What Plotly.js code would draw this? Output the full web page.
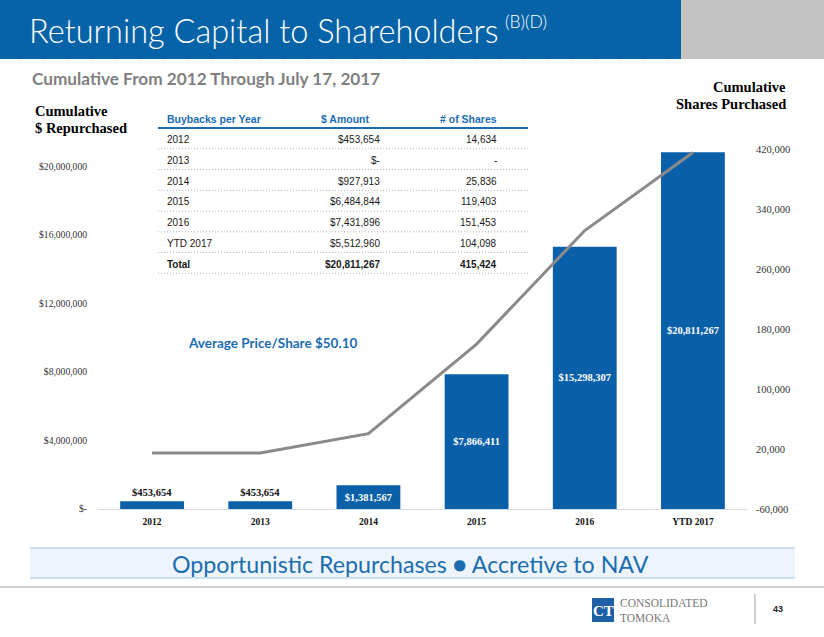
<!DOCTYPE html>
<html><head><meta charset="utf-8">
<script src="https://cdn.plot.ly/plotly-3.0.1.min.js"></script>
<style>html,body{margin:0;padding:0;background:#fff;overflow:hidden}#chart{width:824px;height:637px}</style>
</head><body><div id="chart"></div>
<script>
// ---- data ----
const categories = ['2012','2013','2014','2015','2016','YTD 2017'];
const cumulativeDollars = [453654, 453654, 1381567, 7866411, 15298307, 20811267];
const cumulativeShares = [14634, 14634, 40470, 159873, 311326, 415424];
const leftTickVals = [0, 4000000, 8000000, 12000000, 16000000, 20000000];
const leftTickText = ['$-', '$4,000,000', '$8,000,000', '$12,000,000', '$16,000,000', '$20,000,000'];
const rightTickVals = [-60000, 20000, 100000, 180000, 260000, 340000, 420000];
const rightTickText = ['-60,000', '20,000', '100,000', '180,000', '260,000', '340,000', '420,000'];
const tableHeaders = ['Buybacks per Year', '$ Amount', '# of Shares'];
const tableYears = ['2012', '2013', '2014', '2015', '2016', 'YTD 2017', 'Total'];
const tableAmounts = ['$453,654', '$-', '$927,913', '$6,484,844', '$7,431,896', '$5,512,960', '$20,811,267'];
const tableShares = ['14,634', '-', '25,836', '119,403', '151,453', '104,098', '415,424'];
const barLabelPositions = ['outside', 'outside', 'inside', 'inside', 'inside', 'inside'];

// ---- layout helpers (pixel -> paper) ----
const PL = 98, PR = 747, PT = 149, PB = 509;
const px = x => (x - PL) / (PR - PL);
const py = y => (PB - y) / (PB - PT);

const BLUE = '#0a60a8';
const TBLUE = '#1b6db3';
const SERIF = 'Liberation Serif, Times New Roman, serif';
const SANS = 'Liberation Sans, Arial, sans-serif';
const GOTH = 'Lato, Open Sans, sans-serif';

function ann(text, x, y, xanchor, font, extra) {
  return Object.assign({text: text, xref: 'paper', yref: 'paper', x: px(x), y: py(y),
    xanchor: xanchor, yanchor: 'middle', showarrow: false, font: font}, extra || {});
}
function rect(x0, y0, x1, y1, fill, line) {
  return {type: 'rect', xref: 'paper', yref: 'paper', x0: px(x0), x1: px(x1), y0: py(y0), y1: py(y1),
    fillcolor: fill, line: line || {width: 0}, layer: 'below'};
}
function hline(x0, x1, y, color, width, dash) {
  return {type: 'line', xref: 'paper', yref: 'paper', x0: px(x0), x1: px(x1), y0: py(y), y1: py(y),
    line: {color: color, width: width, dash: dash || 'solid'}};
}

const traces = [
  {
    type: 'bar', x: categories, y: cumulativeDollars, yaxis: 'y',
    marker: {color: BLUE, line: {width: 0}},
    text: cumulativeDollars.map(v => '$' + v.toLocaleString('en-US')),
    textposition: barLabelPositions,
    insidetextanchor: 'middle',
    constraintext: 'none',
    cliponaxis: false,
    textangle: 0,
    insidetextfont: {family: SERIF, size: 10.5, color: '#ffffff', weight: 'bold'},
    outsidetextfont: {family: SERIF, size: 10.5, color: '#111111', weight: 'bold'},
    hoverinfo: 'skip', showlegend: false
  },
  {
    type: 'scatter', mode: 'lines', x: categories, y: cumulativeShares, yaxis: 'y2',
    line: {color: '#8a8a8a', width: 3},
    hoverinfo: 'skip', showlegend: false
  }
];

const annotations = [];
// header title
annotations.push(ann('Returning Capital to Shareholders', 27, 30, 'left',
  {family: GOTH, size: 32.5, color: '#ffffff', weight: 300}));
annotations.push(ann('(B)(D)', 503, 22, 'left',
  {family: GOTH, size: 17.5, color: '#ffffff', weight: 300}));
annotations.push(ann('Cumulative From 2012 Through July 17, 2017', 30, 78, 'left',
  {family: GOTH, size: 17.2, color: '#808080', weight: 'bold'}));
// axis titles
annotations.push(ann('Cumulative', 33, 111, 'left', {family: SERIF, size: 14.5, color: '#000', weight: 'bold'}));
annotations.push(ann('$ Repurchased', 33, 128, 'left', {family: SERIF, size: 14.5, color: '#000', weight: 'bold'}));
annotations.push(ann('Cumulative', 788, 87, 'right', {family: SERIF, size: 14.5, color: '#000', weight: 'bold'}));
annotations.push(ann('Shares Purchased', 788, 104, 'right', {family: SERIF, size: 14.5, color: '#000', weight: 'bold'}));
// table
const hdrFont = {family: SANS, size: 10.5, color: TBLUE, weight: 'bold'};
annotations.push(ann(tableHeaders[0], 165, 119, 'left', hdrFont));
annotations.push(ann(tableHeaders[1], 372, 119, 'right', hdrFont));
annotations.push(ann(tableHeaders[2], 499, 119, 'right', hdrFont));
const shapes = [];
tableYears.forEach((yr, i) => {
  const y = 139.5 + 20.75 * i;
  const isTotal = i === tableYears.length - 1;
  const f = {family: SANS, size: 10, color: '#1a1a1a', weight: isTotal ? 'bold' : 'normal'};
  annotations.push(ann(yr, 165, y, 'left', f));
  annotations.push(ann(tableAmounts[i], 382, y, 'right', f));
  annotations.push(ann(tableShares[i], 499, y, 'right', f));
  shapes.push(hline(158, 528, y + 9.3, '#b0b0b0', 1, '1px,2px'));
});
shapes.push(hline(158, 528, 128, TBLUE, 2));
// average price
annotations.push(ann('Average Price/Share $50.10', 186, 343, 'left',
  {family: GOTH, size: 13.5, color: TBLUE, weight: 'bold'}));
// footer
annotations.push(ann('Opportunistic Repurchases \u25CF Accretive to NAV', 410, 564, 'center',
  {family: GOTH, size: 23.2, color: '#1a6eb0', weight: 'normal'}));
annotations.push(ann('CT', 603, 611, 'center', {family: SERIF, size: 15, color: '#ffffff', weight: 'bold'}));
annotations.push(ann('CONSOLIDATED', 618, 603, 'left', {family: SERIF, size: 11.5, color: '#777777'}));
annotations.push(ann('TOMOKA', 618, 618, 'left', {family: SERIF, size: 11.5, color: '#777777'}));
annotations.push(ann('43', 771, 609, 'left', {family: SANS, size: 9, color: '#222', weight: 'bold'}));

// header shapes
shapes.push(rect(0, 0, 681, 59, '#0763a8'));
shapes.push(rect(681, 0, 824, 59, '#c3c3c3'));
shapes.push(hline(0, 681, 62, '#dcdcdc', 1, '1px,2px'));
// footer shapes
shapes.push(rect(30, 548, 795, 578, '#eef4fb'));
shapes.push(hline(30, 795, 548, '#9cc4e4', 1.2));
shapes.push(hline(30, 795, 578, '#9cc4e4', 1.2));
shapes.push(hline(0, 824, 587, '#d0d0d0', 2));
shapes.push(rect(592, 598, 614, 622, '#1d60a6'));
shapes.push({type: 'line', xref: 'paper', yref: 'paper', x0: px(755), x1: px(755), y0: py(594), y1: py(624),
  line: {color: '#a0a0a0', width: 1}});

const layout = {
  width: 824, height: 637,
  margin: {l: PL, r: 824 - PR, t: PT, b: 637 - PB, pad: 0},
  paper_bgcolor: '#ffffff', plot_bgcolor: 'rgba(0,0,0,0)',
  bargap: 0.41,
  showlegend: false,
  xaxis: {
    type: 'category', range: [-0.5, 5.5], fixedrange: true,
    showline: true, linecolor: '#d6dbe1', linewidth: 1,
    ticks: '', showgrid: false, zeroline: false,
    tickfont: {family: SERIF, size: 9.5, color: '#111', weight: 'bold'},
    ticklabelstandoff: 4
  },
  yaxis: {
    range: [0, 21000000], fixedrange: true,
    tickvals: leftTickVals, ticktext: leftTickText,
    showgrid: false, zeroline: false, showline: false, ticks: '',
    tickfont: {family: SERIF, size: 9.6, color: '#333'},
    ticklabelstandoff: 10
  },
  yaxis2: {
    overlaying: 'y', side: 'right',
    range: [-60000, 420000], fixedrange: true,
    tickvals: rightTickVals, ticktext: rightTickText,
    showgrid: false, zeroline: false, showline: false, ticks: '',
    tickfont: {family: SERIF, size: 10.5, color: '#333'},
    ticklabelstandoff: 8
  },
  annotations: annotations,
  shapes: shapes
};

Plotly.newPlot('chart', traces, layout, {displayModeBar: false, staticPlot: true});
</script>
</body></html>
